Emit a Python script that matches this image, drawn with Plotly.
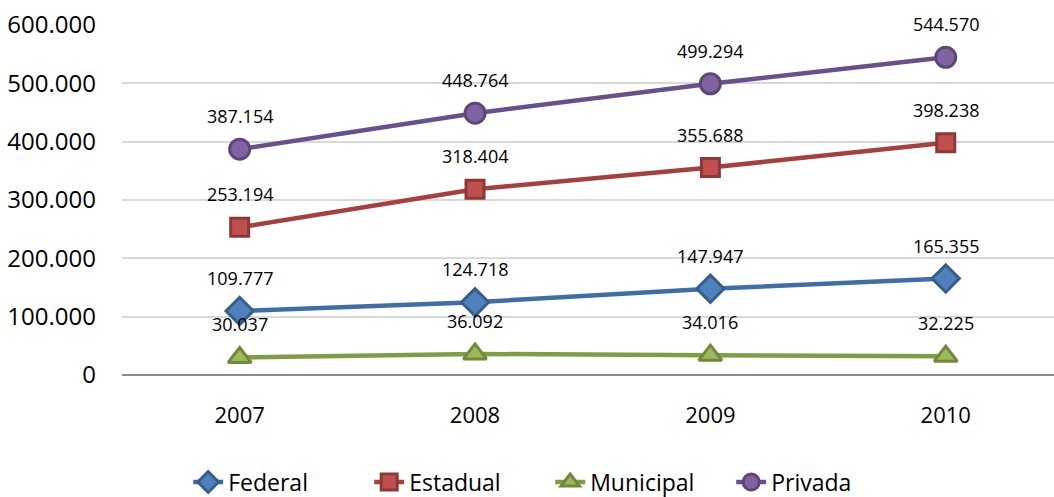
import plotly.graph_objects as go

years = ["2007", "2008", "2009", "2010"]
federal = [109777, 124718, 147947, 165355]
estadual = [253194, 318404, 355688, 398238]
municipal = [30037, 36092, 34016, 32225]
privada = [387154, 448764, 499294, 544570]

series = [
    ("Federal", federal, "#3F6DA8", "#4F81BD", "#385D8A", "diamond", 21),
    ("Estadual", estadual, "#A73F3D", "#C0504D", "#8C3836", "square", 18),
    ("Municipal", municipal, "#7F9E42", "#9BBB59", "#71893F", "triangle-up", 20),
    ("Privada", privada, "#6A4F8E", "#8064A2", "#5C4776", "circle", 20),
]

def fmt(v):
    return f"{v:,}".replace(",", ".")

fig = go.Figure()
annotations = []
for name, vals, lc, fc, bc, sym, sz in series:
    fig.add_trace(go.Scatter(
        x=list(range(len(years))), y=vals, name=name, mode="lines+markers",
        line=dict(color=lc, width=4.5),
        marker=dict(symbol=sym, size=sz, color=fc, line=dict(color=bc, width=3)),
    ))
    for i, v in enumerate(vals):
        annotations.append(dict(
            x=i, y=v, xref="x", yref="y", text=fmt(v), showarrow=False,
            yshift=33, font=dict(size=18, color="#000000", family="Open Sans"),
        ))

fig.update_layout(
    width=1054, height=497,
    margin=dict(l=122, r=0, t=25, b=122),
    paper_bgcolor="white", plot_bgcolor="white",
    font=dict(family="Open Sans", color="#000000"),
    annotations=annotations,
    showlegend=True,
    legend=dict(orientation="h", xref="container", yref="container",
                x=0.522, xanchor="center", y=0.03, yanchor="middle",
                font=dict(size=23), itemwidth=30, entrywidth=136,
                traceorder="normal"),
    xaxis=dict(range=[-0.5, 3.46], tickmode="array",
               tickvals=list(range(len(years))), ticktext=years,
               showgrid=False, zeroline=False, showline=False,
               tickfont=dict(size=22), ticklabelstandoff=25, ticks=""),
    yaxis=dict(range=[0, 600000], tickmode="array",
               tickvals=[0, 100000, 200000, 300000, 400000, 500000, 600000],
               ticktext=["0", "100.000", "200.000", "300.000", "400.000", "500.000", "600.000"],
               showgrid=True, gridcolor="#D9D9D9", gridwidth=1.5,
               zeroline=True, zerolinecolor="#8C8C8C", zerolinewidth=2,
               showline=False, tickfont=dict(size=24), ticklabelstandoff=25),
)
fig.write_html("out.html", config={"displayModeBar": False},
               post_script="document.body.style.margin='0';document.body.style.overflow='hidden';")
